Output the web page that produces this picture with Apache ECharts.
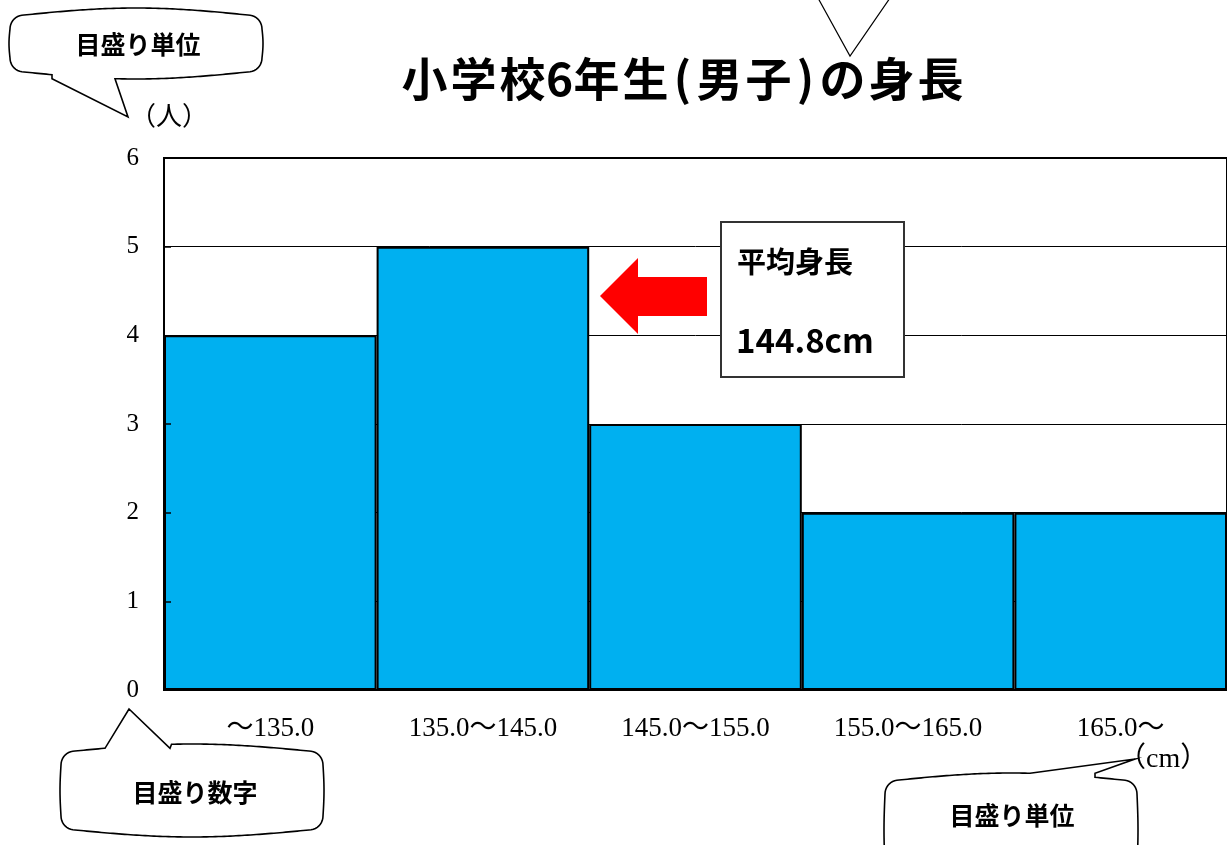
<!DOCTYPE html>
<html>
<head>
<meta charset="utf-8">
<script src="https://cdn.jsdelivr.net/npm/echarts@6/dist/echarts.min.js"></script>
<style>
html,body{margin:0;padding:0;background:#fff;}
#chart{width:1227px;height:845px;}
</style>
</head>
<body>
<div id="chart"></div>
<script>
// ---- data ----
const categories = ['～135.0', '135.0～145.0', '145.0～155.0', '155.0～165.0', '165.0～'];
const counts = [4, 5, 3, 2, 2];
const yTicks = [0, 1, 2, 3, 4, 5, 6];
const titleText = '小学校6年生(男子)の身長';
const yUnit = '（人）';
const xUnit = '（cm）';
const meanLabel = '平均身長';
const meanValue = 144.8;
const calloutUnit = '目盛り単位';
const calloutNumber = '目盛り数字';

// ---- helpers for speech-bubble outlines ----
function bubble(o) {
  const pts = [];
  const { x0, y0, x1, y1, r, bv, bh, tail } = o;
  const N = 80, M = 10;
  function edge(fn, name) {
    let inserted = false;
    let lastY = null;
    for (let i = 0; i <= N; i++) {
      const p = fn(i / N);
      if (tail && tail.edge === name && p[0] > tail.a && p[0] < tail.b) {
        if (!inserted) {
          inserted = true;
          const y = lastY == null ? p[1] : lastY;
          if (name === 'top') {
            pts.push([tail.a, y], tail.tip, [tail.b, y]);
          } else {
            pts.push([tail.b, y], tail.tip, [tail.a, y]);
          }
        }
        continue;
      }
      lastY = p[1];
      pts.push(p);
    }
  }
  function corner(cx, cy, a0) {
    for (let j = 1; j < M; j++) {
      const a = a0 + (Math.PI / 2) * j / M;
      pts.push([cx + r * Math.cos(a), cy + r * Math.sin(a)]);
    }
  }
  const W = x1 - x0 - 2 * r, H = y1 - y0 - 2 * r;
  edge(t => [x0 + r + W * t, y0 - bv * Math.sin(Math.PI * t)], 'top');
  corner(x1 - r, y0 + r, -Math.PI / 2);
  edge(t => [x1 + bh * Math.sin(Math.PI * t), y0 + r + H * t], 'right');
  corner(x1 - r, y1 - r, 0);
  edge(t => [x1 - r - W * t, y1 + bv * Math.sin(Math.PI * t)], 'bottom');
  corner(x0 + r, y1 - r, Math.PI / 2);
  edge(t => [x0 - bh * Math.sin(Math.PI * t), y1 - r - H * t], 'left');
  corner(x0 + r, y0 + r, Math.PI);
  return pts;
}

// monospaced-looking title: full-width cells and half-width cells
function monoRich(str) {
  return Array.from(str).map(ch => (ch.charCodeAt(0) < 0x2000 ? '{h|' + ch + '}' : '{f|' + ch + '}')).join('');
}

const serif = "'Liberation Serif', 'Noto Sans CJK JP', serif";
const gothic = "'Noto Sans CJK JP', sans-serif";

const chart = echarts.init(document.getElementById('chart'), null, { renderer: 'canvas' });

const bubbleStyle = { fill: '#fff', stroke: '#000', lineWidth: 1.6 };
const titleFont = { fontFamily: gothic, fontWeight: 'bold', fontSize: 46, color: '#000' };

const option = {
  backgroundColor: '#fff',
  animation: false,
  title: {
    text: monoRich(titleText),
    left: 400,
    top: 56,
    padding: 0,
    textStyle: Object.assign({}, titleFont, {
      rich: {
        f: Object.assign({ width: 49, align: 'center' }, titleFont),
        h: Object.assign({ width: 25, align: 'center' }, titleFont)
      }
    })
  },
  grid: {
    left: 164, top: 158, right: -2, bottom: 155,
    show: true, borderColor: '#000', borderWidth: 2, backgroundColor: 'transparent'
  },
  xAxis: {
    type: 'category',
    data: categories,
    z: 4,
    axisLine: { lineStyle: { color: '#000', width: 2 } },
    axisTick: { show: false },
    axisLabel: { margin: 25, fontFamily: serif, fontSize: 27, color: '#000' },
    splitLine: { show: false }
  },
  yAxis: [
    {
      type: 'value', min: 0, max: 6, interval: 1, position: 'left',
      axisLine: { show: false },
      axisTick: { show: false },
      axisLabel: {
        margin: 25, fontFamily: serif, fontSize: 25, color: '#000',
        formatter: v => (yTicks.indexOf(v) >= 0 ? String(v) : '')
      },
      splitLine: { show: true, lineStyle: { color: '#000', width: 1 } }
    },
    {
      type: 'value', min: 0, max: 6, interval: 1, position: 'left', z: 4,
      axisLine: { show: true, lineStyle: { color: '#000', width: 2 } },
      axisTick: { show: true, inside: true, length: 7, lineStyle: { color: '#000', width: 1.5 } },
      axisLabel: { show: false },
      splitLine: { show: false }
    }
  ],
  series: [{
    type: 'bar',
    data: counts,
    barCategoryGap: 0,
    barGap: 0,
    itemStyle: { color: '#00B0F0', borderColor: '#000', borderWidth: 2 },
    z: 2
  }],
  graphic: [
    // unit labels
    { type: 'text', z: 10,
      style: { text: yUnit, x: 169, y: 118, align: 'center', verticalAlign: 'middle', font: '26px ' + serif, fill: '#000' } },
    { type: 'text', z: 10,
      style: { text: xUnit, x: 1118, y: 760, align: 'left', verticalAlign: 'middle', font: '28px ' + serif, fill: '#000' } },
    // mean annotation arrow
    { type: 'polygon', z: 10,
      shape: { points: [[600, 296], [638, 258], [638, 277], [707, 277], [707, 316], [638, 316], [638, 334]] },
      style: { fill: '#FF0000', stroke: null } },
    // mean box
    { type: 'rect', z: 10,
      shape: { x: 721, y: 222, width: 183, height: 155 },
      style: { fill: '#fff', stroke: '#333', lineWidth: 2 } },
    { type: 'text', z: 11,
      style: { text: meanLabel, x: 737, y: 262, align: 'left', verticalAlign: 'middle', font: 'bold 29px ' + gothic, fill: '#000' } },
    { type: 'text', z: 11,
      style: { text: meanValue.toFixed(1) + 'cm', x: 736, y: 340, align: 'left', verticalAlign: 'middle', font: 'bold 33px ' + gothic, fill: '#000' } },
    // callout bubbles
    { type: 'polygon', z: 12,
      shape: { points: bubble({ x0: 10, y0: 15, x1: 262, y1: 72, r: 14, bv: 7, bh: 1,
        tail: { edge: 'bottom', a: 52, b: 115, tip: [128, 117] } }) },
      style: bubbleStyle },
    { type: 'text', z: 13,
      style: { text: calloutUnit, x: 138, y: 44, align: 'center', verticalAlign: 'middle', font: 'bold 25px ' + gothic, fill: '#000' } },
    { type: 'polygon', z: 12,
      shape: { points: bubble({ x0: 61, y0: 751, x1: 323, y1: 830, r: 14, bv: 7, bh: 1,
        tail: { edge: 'top', a: 105, b: 170, tip: [129, 709] } }) },
      style: bubbleStyle },
    { type: 'text', z: 13,
      style: { text: calloutNumber, x: 195, y: 792, align: 'center', verticalAlign: 'middle', font: 'bold 25px ' + gothic, fill: '#000' } },
    { type: 'polygon', z: 12,
      shape: { points: bubble({ x0: 885, y0: 780, x1: 1137, y1: 880, r: 14, bv: 7, bh: 1,
        tail: { edge: 'top', a: 1030, b: 1095, tip: [1135, 759] } }) },
      style: bubbleStyle },
    { type: 'text', z: 13,
      style: { text: calloutUnit, x: 1012, y: 815, align: 'center', verticalAlign: 'middle', font: 'bold 25px ' + gothic, fill: '#000' } },
    // tail of a callout above the visible area
    { type: 'polyline', z: 12,
      shape: { points: [[818, -2], [850, 56], [890, -2]] },
      style: { stroke: '#000', lineWidth: 1.2, fill: null } }
  ]
};

chart.setOption(option);
</script>
</body>
</html>
